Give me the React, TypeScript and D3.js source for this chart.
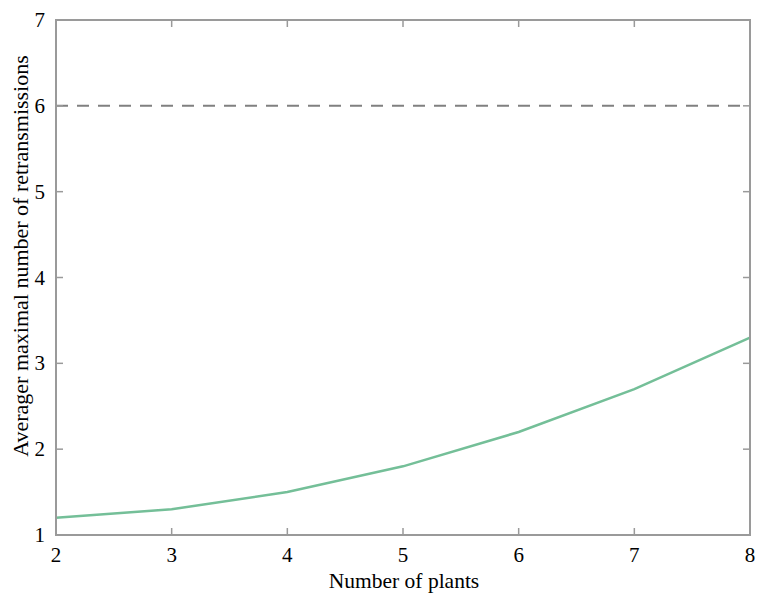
import React from 'react';
import * as d3 from 'd3';

const plants = [2, 3, 4, 5, 6, 7, 8];
const retransmissions = [1.2, 1.3, 1.5, 1.8, 2.2, 2.7, 3.3];
const limit = 6;
const xTicks = [2, 3, 4, 5, 6, 7, 8];
const yTicks = [1, 2, 3, 4, 5, 6, 7];

const W = 764;
const H = 598;
const margin = {top: 20, right: 14, bottom: 63, left: 56};
const FONT = '"Times New Roman", Tinos, "Liberation Serif", serif';

export default function App() {
  const x = d3
    .scaleLinear()
    .domain([2, 8])
    .range([margin.left, W - margin.right]);
  const y = d3
    .scaleLinear()
    .domain([1, 7])
    .range([H - margin.bottom, margin.top]);

  const line = d3
    .line<number>()
    .x((_, i) => x(plants[i]))
    .y((d) => y(d));

  const x0 = x.range()[0];
  const x1 = x.range()[1];
  const y0 = y.range()[0];
  const y1 = y.range()[1];
  const tick = 7;
  const axisColor = '#9a9a9a';
  const textStyle = {fontFamily: FONT};

  return (
    <svg
      width={W}
      height={H}
      style={{position: 'absolute', left: 0, top: 0, display: 'block', background: 'white', fontFamily: FONT}}
    >
      {/* limit line */}
      <line
        x1={x0}
        x2={x1}
        y1={y(limit)}
        y2={y(limit)}
        stroke="#808080"
        strokeWidth={2}
        strokeDasharray="12 9"
      />
      {/* data */}
      <path
        d={line(retransmissions) || ''}
        fill="none"
        stroke="#74bf98"
        strokeWidth={2.5}
      />
      {/* ticks */}
      {xTicks.map((t) => (
        <g key={'x' + t}>
          <line x1={x(t)} x2={x(t)} y1={y0} y2={y0 - tick} stroke={axisColor} strokeWidth={1.5} />
          <line x1={x(t)} x2={x(t)} y1={y1} y2={y1 + tick} stroke={axisColor} strokeWidth={1.5} />
          <text x={x(t)} y={y0 + 27} textAnchor="middle" fontSize={21} style={textStyle}>
            {t}
          </text>
        </g>
      ))}
      {yTicks.map((t) => (
        <g key={'y' + t}>
          <line x1={x0} x2={x0 + tick} y1={y(t)} y2={y(t)} stroke={axisColor} strokeWidth={1.5} />
          <line x1={x1} x2={x1 - tick} y1={y(t)} y2={y(t)} stroke={axisColor} strokeWidth={1.5} />
          <text x={x0 - 11} y={y(t) + 7} textAnchor="end" fontSize={21} style={textStyle}>
            {t}
          </text>
        </g>
      ))}
      {/* frame */}
      <rect
        x={x0}
        y={y1}
        width={x1 - x0}
        height={y0 - y1}
        fill="none"
        stroke={axisColor}
        strokeWidth={2}
      />
      <text x={404} y={588} textAnchor="middle" fontSize={21.5} style={textStyle}>
        Number of plants
      </text>
      <text
        transform="translate(28,256) rotate(-90)"
        textAnchor="middle"
        fontSize={22}
        style={textStyle}
      >
        Averager maximal number of retransmissions
      </text>
    </svg>
  );
}
